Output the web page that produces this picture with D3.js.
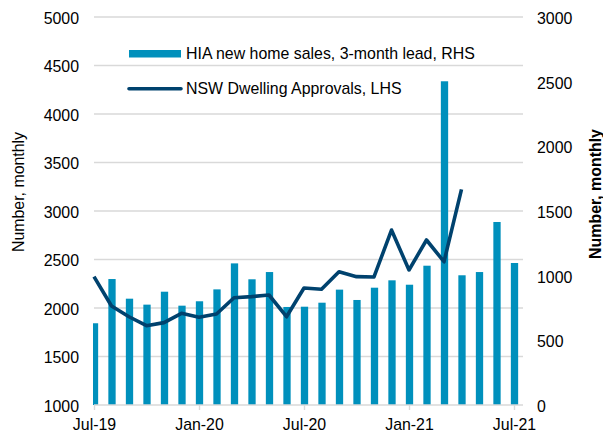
<!DOCTYPE html>
<html><head><meta charset="utf-8">
<script src="https://cdn.jsdelivr.net/npm/d3@7"></script>
<style>
html,body{margin:0;padding:0;background:#fff;}
svg{display:block;font-family:"Liberation Sans",Arial,sans-serif;}
</style></head>
<body><svg id="c" width="603" height="432"></svg>
<script>
const months = ["Jul-19","Aug-19","Sep-19","Oct-19","Nov-19","Dec-19","Jan-20","Feb-20","Mar-20","Apr-20","May-20","Jun-20","Jul-20","Aug-20","Sep-20","Oct-20","Nov-20","Dec-20","Jan-21","Feb-21","Mar-21","Apr-21","May-21","Jun-21","Jul-21"];
const tickLabels = ["Jul-19","Jan-20","Jul-20","Jan-21","Jul-21"];
const hiaSales = [632,974,822,776,876,768,802,894,1095,972,1028,758,760,791,892,812,907,964,930,1077,2503,1003,1028,1415,1098];
const nswApprovals = [2323,2021,1910,1818,1849,1945,1904,1938,2106,2117,2134,1910,2206,2193,2374,2323,2320,2804,2392,2701,2477,3223,null,null,null];
const leftTicks = [1000,1500,2000,2500,3000,3500,4000,4500,5000];
const rightTicks = [0,500,1000,1500,2000,2500,3000];
const barName = "HIA new home sales, 3-month lead, RHS";
const lineName = "NSW Dwelling Approvals, LHS";
const axisTitle = "Number, monthly";

const svg = d3.select("#c");
const L = 94, R = 523, T = 17, B = 405;
const FS = "15.9px";
const x = d3.scalePoint().domain(months).range([94, 514]);
const yL = d3.scaleLinear().domain([1000,5000]).range([B,T]);
const yR = d3.scaleLinear().domain([0,3000]).range([B,T]);
const fmt = d3.format("d");

svg.append("defs").append("clipPath").attr("id","clip")
  .append("rect").attr("x",L-1).attr("y",0).attr("width",R-L+1).attr("height",B);

// gridlines
svg.append("g").selectAll("line").data(leftTicks.slice(1)).join("line")
  .attr("x1",L).attr("x2",R).attr("y1",d=>yL(d)).attr("y2",d=>yL(d))
  .attr("stroke","#d9d9d9").attr("stroke-width",1.4);

// bars
const bw = 7.3;
svg.append("g").attr("clip-path","url(#clip)").selectAll("rect").data(hiaSales).join("rect")
  .attr("x",(d,i)=>x(months[i])-bw/2+0.5).attr("width",bw)
  .attr("y",d=>yR(d)).attr("height",d=>B-yR(d))
  .attr("fill","#0090bc");

// x axis
const xa = svg.append("g").attr("transform",`translate(0,${B})`)
  .call(d3.axisBottom(x).tickValues(tickLabels).tickSize(5).tickPadding(9).tickSizeOuter(0));
xa.select(".domain").remove();
xa.append("line").attr("x1",L).attr("x2",R).attr("y1",0).attr("y2",0).attr("stroke","#d9d9d9").attr("stroke-width",1.4);
xa.selectAll(".tick line").attr("stroke","#d9d9d9").attr("stroke-width",1.4);
xa.selectAll("text").attr("font-size",FS).attr("fill","#000").attr("font-family","Liberation Sans, Arial, sans-serif").attr("dy","0.71em");

// left axis
const la = svg.append("g").attr("transform",`translate(${L},0)`)
  .call(d3.axisLeft(yL).tickValues(leftTicks).tickFormat(fmt).tickSize(0).tickPadding(15));
la.select(".domain").remove();
la.selectAll("text").attr("font-size",FS).attr("fill","#000").attr("font-family","Liberation Sans, Arial, sans-serif").attr("dy","0.4em");

// right axis
const ra = svg.append("g").attr("transform",`translate(${R},0)`)
  .call(d3.axisRight(yR).tickValues(rightTicks).tickFormat(fmt).tickSize(0).tickPadding(14));
ra.select(".domain").remove();
ra.selectAll("text").attr("font-size",FS).attr("fill","#000").attr("font-family","Liberation Sans, Arial, sans-serif").attr("dy","0.4em");

// line
const line = d3.line().defined(d=>d!=null).x((d,i)=>x(months[i])).y(d=>yL(d));
svg.append("path").datum(nswApprovals).attr("d",line)
  .attr("fill","none").attr("stroke","#00426e").attr("stroke-width",3.6).attr("stroke-linejoin","round");

// axis titles
svg.append("text").attr("transform","translate(24,192) rotate(-90)").attr("text-anchor","middle")
  .attr("font-size",FS).attr("fill","#000").text(axisTitle);
svg.append("text").attr("transform","translate(601,194) rotate(-90)").attr("text-anchor","middle")
  .attr("font-size",FS).attr("font-weight","bold").attr("fill","#000").text(axisTitle);

// legend
const lg = svg.append("g");
lg.append("rect").attr("x",129).attr("y",50).attr("width",52).attr("height",7.5).attr("fill","#0090bc");
lg.append("text").attr("x",186).attr("y",58.5).attr("font-size",FS).attr("fill","#000").text(barName);
lg.append("line").attr("x1",129).attr("x2",181).attr("y1",88.7).attr("y2",88.7)
  .attr("stroke","#00426e").attr("stroke-width",3.6).attr("stroke-linecap","round");
lg.append("text").attr("x",186).attr("y",93.5).attr("font-size",FS).attr("fill","#000").text(lineName);
</script></body></html>
